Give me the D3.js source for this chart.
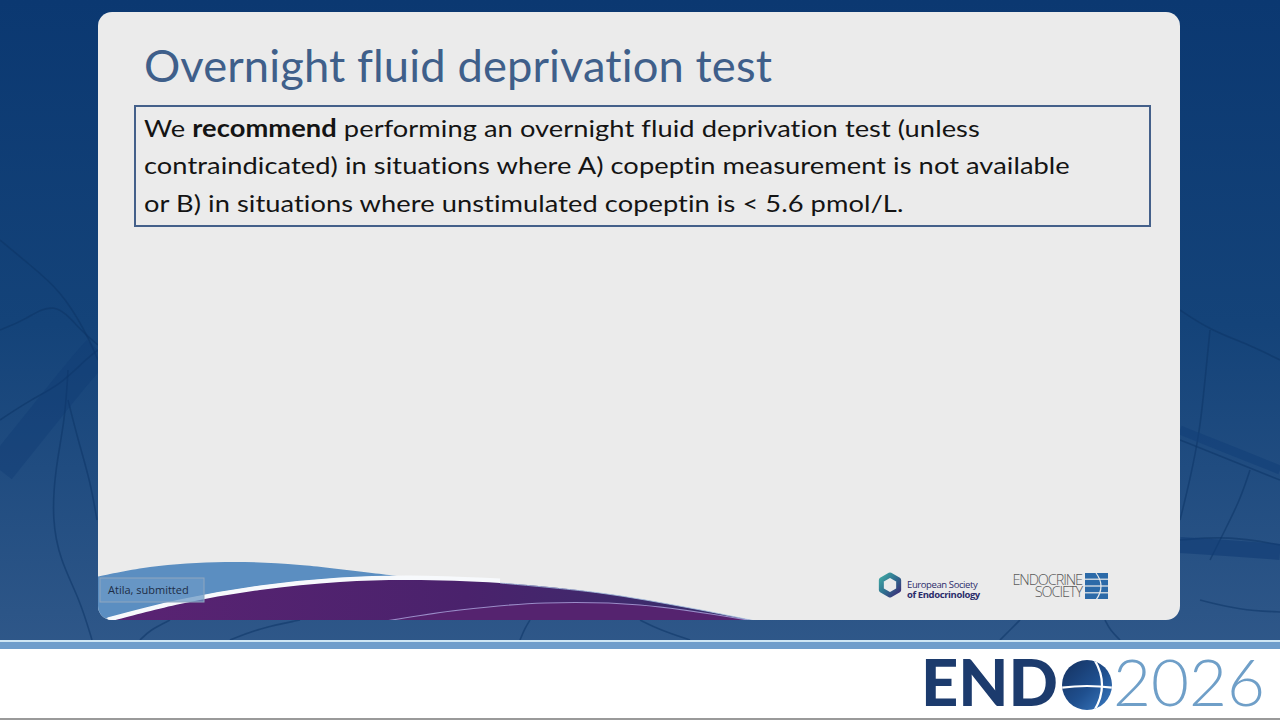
<!DOCTYPE html>
<html><head><meta charset="utf-8">
<script src="https://cdn.jsdelivr.net/npm/d3@7/dist/d3.min.js"></script>
<style>html,body{margin:0;padding:0;background:#0d3b72;overflow:hidden}svg{display:block}text{font-variant-ligatures:none;font-feature-settings:"liga" 0,"clig" 0}</style>
</head><body>
<svg id="slide" width="1280" height="720"></svg>
<script>
// ---- content ----
const titleText = "Overnight fluid deprivation test";
const bodyLines = [
  [["We ", false], ["recommend", true], [" performing an overnight fluid deprivation test (unless", false]],
  [["contraindicated) in situations where A) copeptin measurement is not available", false]],
  [["or B) in situations where unstimulated copeptin is < 5.6 pmol/L.", false]]
];
const footnote = "Atila, submitted";
const eseLines = ["European Society", "of Endocrinology"];
const esLines = ["ENDOCRINE", "SOCIETY"];
const brandWord = "END";
const brandYear = "2026";
// decorative swoosh outlines (slide artwork)
const blueSwooshTop = [[96,577],[150,567],[225,562],[300,565],[404,577]];
const purpleTop = [[108,622],[180,604],[260,590],[340,582],[410,580],[500,583],[600,593],[690,608],[760,622]];
const purpleInner = [[380,622],[460,610],[545,603],[640,605],[760,622]];
const neuronPaths = [
  [[0,240],[30,265],[60,290],[85,330],[98,360]],
  [[0,330],[25,320],[55,300],[80,330],[98,345]],
  [[0,420],[30,400],[60,385],[85,360],[98,350]],
  [[68,370],[65,420],[55,470],[52,520],[60,560],[80,600],[92,640]],
  [[68,400],[78,440],[90,480],[97,520]],
  [[1180,310],[1210,330],[1250,345],[1280,360]],
  [[1210,330],[1205,380],[1200,430],[1190,480],[1180,520]],
  [[1180,440],[1230,460],[1280,480]],
  [[1250,470],[1240,500],[1225,530],[1210,560]],
  [[1180,540],[1230,536],[1280,545]],
  [[1200,600],[1240,610],[1280,612]],
  [[140,640],[150,630],[170,620]],
  [[230,640],[260,628],[300,620]],
  [[520,640],[525,628],[530,620]],
  [[640,620],[660,630],[690,640]],
  [[1000,640],[1010,630],[1020,620]],
  [[1120,640],[1110,630],[1105,620]]
];

const svg = d3.select("#slide");
const defs = svg.append("defs");

// background gradient
const bg = defs.append("linearGradient").attr("id","bg").attr("x1",0).attr("y1",0).attr("x2",0).attr("y2",1);
bg.append("stop").attr("offset","0").attr("stop-color","#0b3871");
bg.append("stop").attr("offset","0.45").attr("stop-color","#144379");
bg.append("stop").attr("offset","0.85").attr("stop-color","#2c5587");
bg.append("stop").attr("offset","1").attr("stop-color","#355d8d");
svg.append("rect").attr("width",1280).attr("height",720).attr("fill","url(#bg)");

const line = d3.line().curve(d3.curveBasis);
svg.append("g").selectAll("path").data(neuronPaths).join("path")
  .attr("d", d => line(d)).attr("fill","none")
  .attr("stroke","#0c3466").attr("stroke-opacity",0.55).attr("stroke-width",1.6);
svg.append("path").attr("d", line([[1180,430],[1230,450],[1280,470]])).attr("stroke","#123f78").attr("stroke-width",9).attr("stroke-opacity",0.6).attr("fill","none");
svg.append("path").attr("d", line([[1180,545],[1230,548],[1280,552]])).attr("stroke","#103c74").attr("stroke-width",16).attr("stroke-opacity",0.6).attr("fill","none");
svg.append("path").attr("d", line([[0,470],[40,420],[80,370],[98,350]])).attr("stroke","#0f3a72").attr("stroke-width",30).attr("stroke-opacity",0.35).attr("fill","none");

// panel
const panel = {x:98, y:12, w:1082, h:608, r:14};
defs.append("clipPath").attr("id","panelClip").append("rect")
  .attr("x",panel.x).attr("y",panel.y).attr("width",panel.w).attr("height",panel.h).attr("rx",panel.r);
svg.append("rect").attr("x",panel.x).attr("y",panel.y).attr("width",panel.w).attr("height",panel.h)
  .attr("rx",panel.r).attr("fill","#ebebeb");

const art = svg.append("g").attr("clip-path","url(#panelClip)");
const cr = d3.line().curve(d3.curveCatmullRom);
const purpleLeft = purpleTop.filter(p => p[0] <= 410);
art.append("path").attr("d", cr(blueSwooshTop) +
    "L" + cr(purpleLeft.slice().reverse().map(p=>[p[0],p[1]-4])).slice(1) + "L96,622Z")
  .attr("fill","#5b8ec1");
art.append("path").attr("d", cr(purpleTop.filter(p=>p[0]<=500).map(p=>[p[0],p[1]-2])))
  .attr("fill","none").attr("stroke","#f7f9fc").attr("stroke-width",5);
const pg = defs.append("linearGradient").attr("id","purp").attr("x1",0).attr("x2",1).attr("y1",0).attr("y2",0);
pg.append("stop").attr("offset","0").attr("stop-color","#5a2373");
pg.append("stop").attr("offset","0.55").attr("stop-color","#4a226c");
pg.append("stop").attr("offset","1").attr("stop-color","#34306c");
art.append("path").attr("d", cr(purpleTop) + "L760,622L108,622Z").attr("fill","url(#purp)");
art.append("path").attr("d", cr(purpleInner) + "Z").attr("fill","#55236f");
art.append("path").attr("d", cr(purpleInner))
  .attr("fill","none").attr("stroke","#9a8cc8").attr("stroke-width",1.2);
art.append("path").attr("d", cr(purpleTop.filter(p=>p[0]>=500)))
  .attr("fill","none").attr("stroke","#a9c4e4").attr("stroke-width",1).attr("stroke-opacity",0.8);

// title
svg.append("text").attr("x",144).attr("y",82)
  .attr("font-family","Lato, 'Open Sans', sans-serif").attr("font-size",45).attr("letter-spacing",0.1)
  .attr("fill","#3f5f8a").text(titleText)
  .attr("textLength",628).attr("lengthAdjust","spacingAndGlyphs");

// recommendation box
svg.append("rect").attr("x",135).attr("y",106).attr("width",1015).attr("height",120)
  .attr("fill","#ebebeb").attr("stroke","#44608a").attr("stroke-width",2);
const yLine = d3.scaleLinear().domain([0, bodyLines.length-1]).range([137, 212]);
const bodyG = svg.append("g");
const texts = bodyG.selectAll("text").data(bodyLines).join("text")
  .attr("x",144).attr("y",(d,i)=>yLine(i)).attr("letter-spacing",0.05)
  .attr("font-family","Lato, 'Open Sans', sans-serif").attr("font-size",24).attr("fill","#141414");
texts.selectAll("tspan").data(d=>d).join("tspan")
  .style("white-space","pre")
  .attr("font-weight",d=>d[1]?"bold":"normal").text(d=>d[0]);
const w2 = texts.nodes()[1].getComputedTextLength();
const sx = 926 / w2;
bodyG.attr("transform",`translate(144,0) scale(${sx},1) translate(-144,0)`);

// footnote box
svg.append("rect").attr("x",100).attr("y",578).attr("width",104).attr("height",24)
  .attr("fill","#6b98c6").attr("fill-opacity",0.75).attr("stroke","#8fa6bf").attr("stroke-width",1);
svg.append("text").attr("x",108).attr("y",594).attr("font-family","'Open Sans', sans-serif")
  .attr("font-size",11).attr("fill","#1d2d46").text(footnote);

// ESE logo
const hexG = defs.append("linearGradient").attr("id","hexg").attr("x1",0).attr("y1",0).attr("x2",1).attr("y2",1);
hexG.append("stop").attr("offset","0").attr("stop-color","#3fa7a3");
hexG.append("stop").attr("offset","0.5").attr("stop-color","#2f6f8f");
hexG.append("stop").attr("offset","1").attr("stop-color","#3b2f78");
const hexPts = d3.range(6).map(i => { const a = Math.PI/3*i + Math.PI/6; return [890 + 10*Math.cos(a), 585 + 10*Math.sin(a)]; });
svg.append("path").attr("d", d3.line().curve(d3.curveLinearClosed)(hexPts))
  .attr("fill","none").attr("stroke","url(#hexg)").attr("stroke-width",5).attr("stroke-linejoin","round");
const eseT = svg.append("text").attr("font-family","'Open Sans', sans-serif").attr("font-size",9.5)
  .attr("letter-spacing",-0.4).attr("fill","#2b2d6b");
eseT.selectAll("tspan").data(eseLines).join("tspan")
  .attr("x",907).attr("y",(d,i)=>588+i*10)
  .attr("font-weight",(d,i)=>i?"bold":"normal").text(d=>d);

// Endocrine Society logo
const esT = svg.append("text").attr("font-family","'Open Sans', sans-serif").attr("font-size",14.5)
  .attr("font-weight",300).attr("letter-spacing",-1.1).attr("fill","#5a5a5a").attr("text-anchor","end");
esT.selectAll("tspan").data(esLines).join("tspan")
  .attr("x",1082).attr("y",(d,i)=>585+i*12).text(d=>d);
const esBands = [0,1,2,3];
svg.append("g").selectAll("rect").data(esBands).join("rect")
  .attr("x",1085).attr("y",d=>573+d*6.8).attr("width",23).attr("height",5.6).attr("fill","#2c6aa8");
svg.append("path").attr("d","M1096,573 Q1106,586 1096,600").attr("fill","none").attr("stroke","#ebebeb").attr("stroke-width",1.2);

// bottom stripe + white footer
svg.append("rect").attr("x",0).attr("y",640).attr("width",1280).attr("height",80).attr("fill","#ffffff");
svg.append("rect").attr("x",0).attr("y",640).attr("width",1280).attr("height",2).attr("fill","#cfe6f4");
svg.append("rect").attr("x",0).attr("y",642).attr("width",1280).attr("height",7).attr("fill","#6f9dcb");
svg.append("rect").attr("x",0).attr("y",718).attr("width",1280).attr("height",2).attr("fill","#9a9a9a");

// ENDO2026 brand
svg.append("text").attr("x",921).attr("y",706)
  .attr("font-family","Lato, 'Open Sans', sans-serif").attr("font-size",65).attr("font-weight",900)
  .attr("fill","#1c3b6d").text(brandWord)
  .attr("textLength",137).attr("lengthAdjust","spacingAndGlyphs");
const gg = defs.append("linearGradient").attr("id","globe").attr("x1",0).attr("y1",0).attr("x2",1).attr("y2",1);
gg.append("stop").attr("offset","0").attr("stop-color","#14305e");
gg.append("stop").attr("offset","0.55").attr("stop-color","#1f4f8e");
gg.append("stop").attr("offset","1").attr("stop-color","#3b7cc4");
defs.append("clipPath").attr("id","globeClip").append("circle").attr("cx",1087).attr("cy",685).attr("r",25);
svg.append("circle").attr("cx",1087).attr("cy",685).attr("r",25).attr("fill","url(#globe)");
const gl = svg.append("g").attr("clip-path","url(#globeClip)");
gl.append("path").attr("d","M1094,659 Q1110,685 1094,711").attr("fill","none").attr("stroke","#ffffff").attr("stroke-width",2.2);
gl.append("path").attr("d","M1060,688 Q1087,684 1114,688").attr("fill","none").attr("stroke","#ffffff").attr("stroke-width",2.2);
svg.append("text").attr("x",1113).attr("y",706)
  .attr("font-family","Lato, 'Open Sans', sans-serif").attr("font-size",65).attr("font-weight",300)
  .attr("fill","#6f9fc8").text(brandYear)
  .attr("textLength",152).attr("lengthAdjust","spacingAndGlyphs");
</script>
</body></html>
